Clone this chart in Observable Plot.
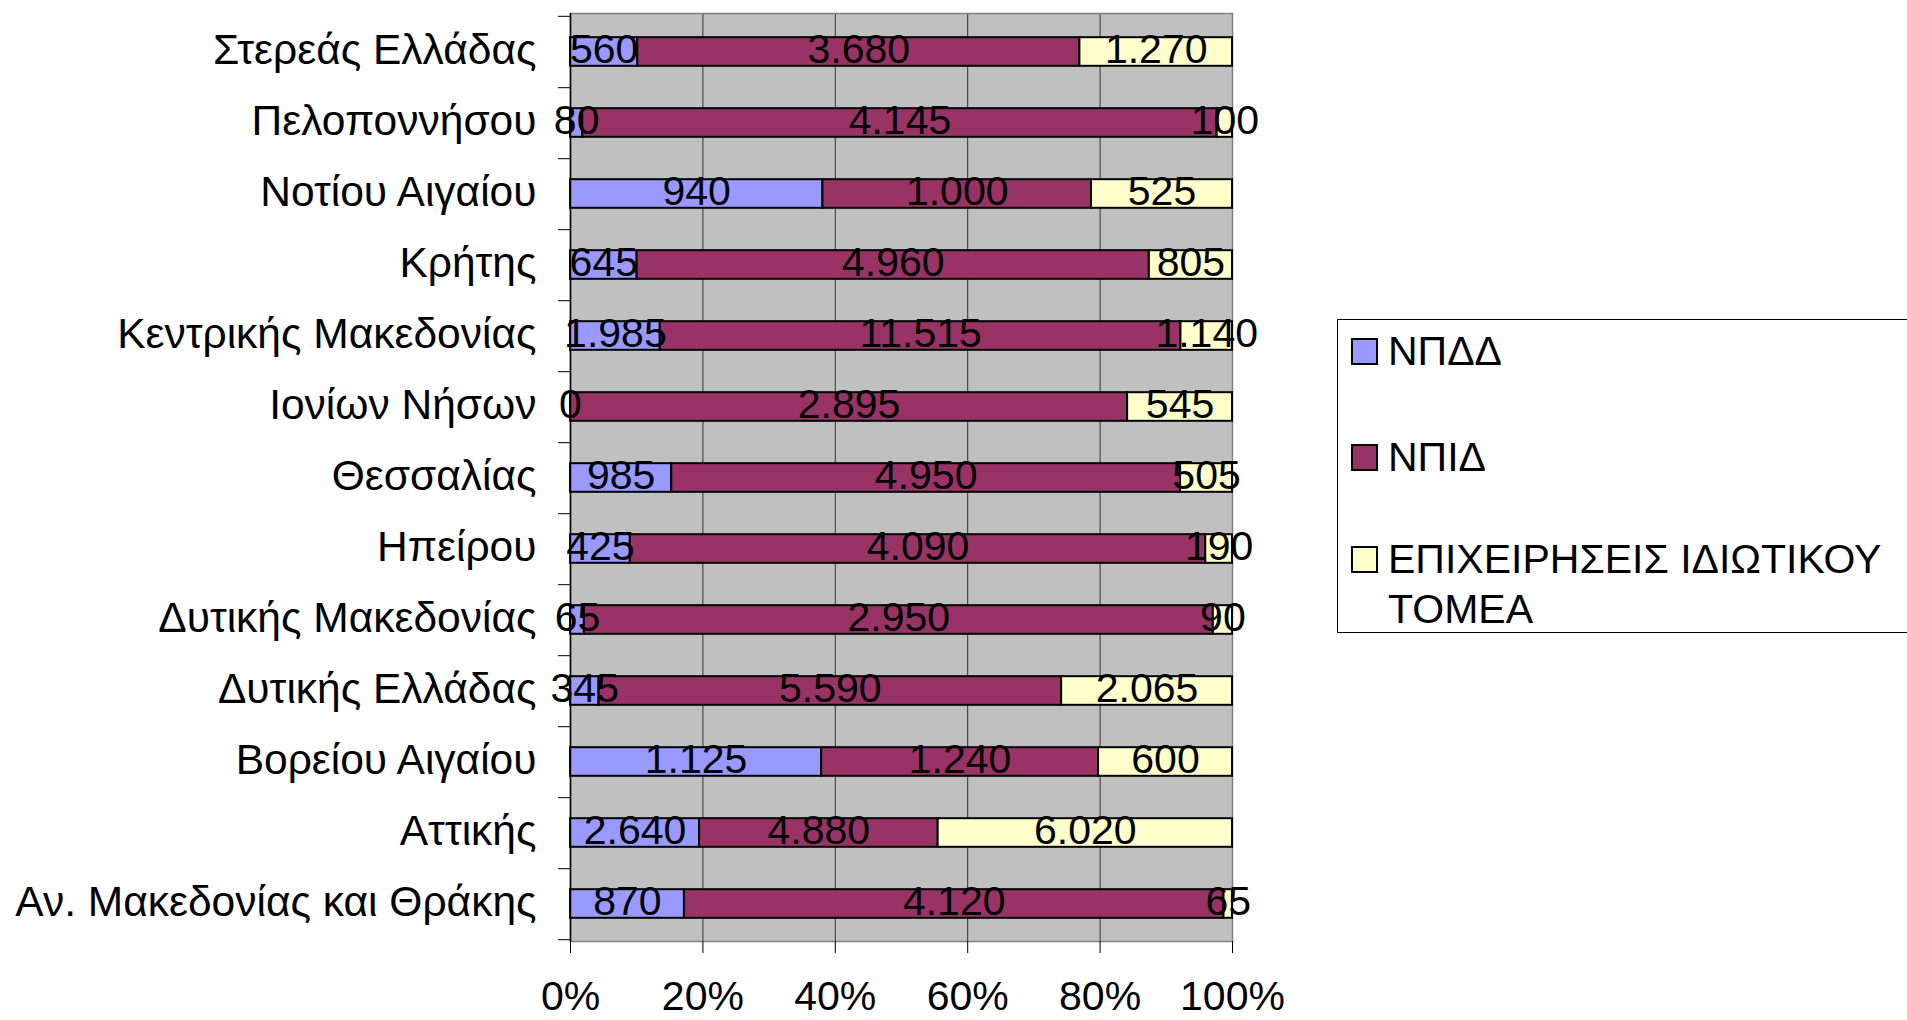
<!DOCTYPE html>
<html>
<head>
<meta charset="utf-8">
<script src="https://cdn.jsdelivr.net/npm/d3@7"></script>
<script src="https://cdn.jsdelivr.net/npm/@observablehq/plot@0.6"></script>
<style>
  html, body { margin: 0; padding: 0; background: #fff; overflow: hidden; }
  #wrap { position: relative; width: 1907px; height: 1020px; font-family: "Liberation Sans", Arial, sans-serif; }
  #legend { position: absolute; left: 1337px; top: 319px; width: 640px; height: 314px; border: 1px solid #000; box-sizing: border-box; }
  .entry { position: absolute; left: 13px; font-size: 41px; line-height: 50px; color: #000; white-space: nowrap; }
  .sw { position: absolute; left: 0; top: 12px; width: 23px; height: 23px; border: 2px solid #000; }
  .lab { position: absolute; left: 37px; top: 0; }
</style>
</head>
<body>
<div id="wrap"></div>
<script>
const regions = [
  "Στερεάς Ελλάδας",
  "Πελοποννήσου",
  "Νοτίου Αιγαίου",
  "Κρήτης",
  "Κεντρικής Μακεδονίας",
  "Ιονίων Νήσων",
  "Θεσσαλίας",
  "Ηπείρου",
  "Δυτικής Μακεδονίας",
  "Δυτικής Ελλάδας",
  "Βορείου Αιγαίου",
  "Αττικής",
  "Αν. Μακεδονίας και Θράκης"
];
const seriesNames = ["ΝΠΔΔ", "ΝΠΙΔ", "ΕΠΙΧΕΙΡΗΣΕΙΣ ΙΔΙΩΤΙΚΟΥ ΤΟΜΕΑ"];
const legendLines = [["ΝΠΔΔ"], ["ΝΠΙΔ"], ["ΕΠΙΧΕΙΡΗΣΕΙΣ ΙΔΙΩΤΙΚΟΥ", "ΤΟΜΕΑ"]];
const npdd = [560, 80, 940, 645, 1985, 0, 985, 425, 65, 345, 1125, 2640, 870];
const npid = [3680, 4145, 1000, 4960, 11515, 2895, 4950, 4090, 2950, 5590, 1240, 4880, 4120];
const epix = [1270, 100, 525, 805, 1140, 545, 505, 190, 90, 2065, 600, 6020, 65];
const colors = ["#9999FF", "#993366", "#FFFFCC"];
const xTicks = [0, 0.2, 0.4, 0.6, 0.8, 1];

const seriesValues = [npdd, npid, epix];
const data = regions.flatMap((r, i) =>
  seriesNames.map((s, j) => ({region: r, series: s, value: seriesValues[j][i]}))
);

const grLocale = d3.formatLocale({decimal: ",", thousands: ".", grouping: [3], currency: ["", " €"]});
const fmt = grLocale.format(",d");
const pct = d3.format(".0%");

const W = 1907, H = 1020;
const mL = 570, mR = W - 1232, mT = 13, mB = H - 941;
const band = (H - mT - mB) / regions.length;
const barH = 29;

const chart = Plot.plot({
  width: W,
  height: H,
  marginLeft: mL,
  marginRight: mR,
  marginTop: mT,
  marginBottom: mB,
  style: {fontFamily: "Liberation Sans, Arial, sans-serif", fontSize: "41px", background: "white", color: "#000"},
  x: {domain: [0, 1], axis: null},
  y: {domain: regions, padding: 0, axis: null},
  color: {domain: seriesNames, range: colors},
  marks: [
    Plot.frame({fill: "#C0C0C0", stroke: null}),
    Plot.gridX(xTicks, {stroke: "#333", strokeOpacity: 1, strokeWidth: 1}),
    Plot.frame({stroke: "#808080", strokeWidth: 1.5}),
    Plot.barX(data, Plot.stackX({
      offset: "normalize", x: "value", y: "region", fill: "series", z: "series",
      stroke: "#000", strokeWidth: 2,
      insetTop: (band - barH) / 2, insetBottom: (band - barH) / 2
    })),
    Plot.text(data, Plot.stackX({
      offset: "normalize", x: "value", y: "region", z: "series",
      text: d => fmt(d.value), fontSize: 41, fill: "#000", dy: -2
    })),
    Plot.ruleX([0], {stroke: "#000", strokeWidth: 1.5}),
    Plot.axisX(xTicks, {tickFormat: pct, tickSize: 12, tickPadding: 27, fontSize: 41, label: null, stroke: "#000"}),
    Plot.axisY({tickSize: 0, tickPadding: 34, fontSize: 42.5, label: null, dy: -2}),
    Plot.axisY({tickSize: 12, tickFormat: () => "", dy: band / 2, label: null, stroke: "#000"}),
    Plot.axisY([regions[0]], {tickSize: 12, tickFormat: () => "", dy: -band / 2, label: null, stroke: "#000"})
  ]
});

const wrap = document.getElementById("wrap");
wrap.appendChild(chart);

const legend = document.createElement("div");
legend.id = "legend";
const tops = [6, 112, 214];
seriesNames.forEach((s, i) => {
  const e = document.createElement("div");
  e.className = "entry";
  e.style.top = tops[i] + "px";
  const sw = document.createElement("div");
  sw.className = "sw";
  sw.style.background = colors[i];
  const lab = document.createElement("div");
  lab.className = "lab";
  lab.innerHTML = legendLines[i].join("<br>");
  e.appendChild(sw);
  e.appendChild(lab);
  legend.appendChild(e);
});
wrap.appendChild(legend);
</script>
</body>
</html>
